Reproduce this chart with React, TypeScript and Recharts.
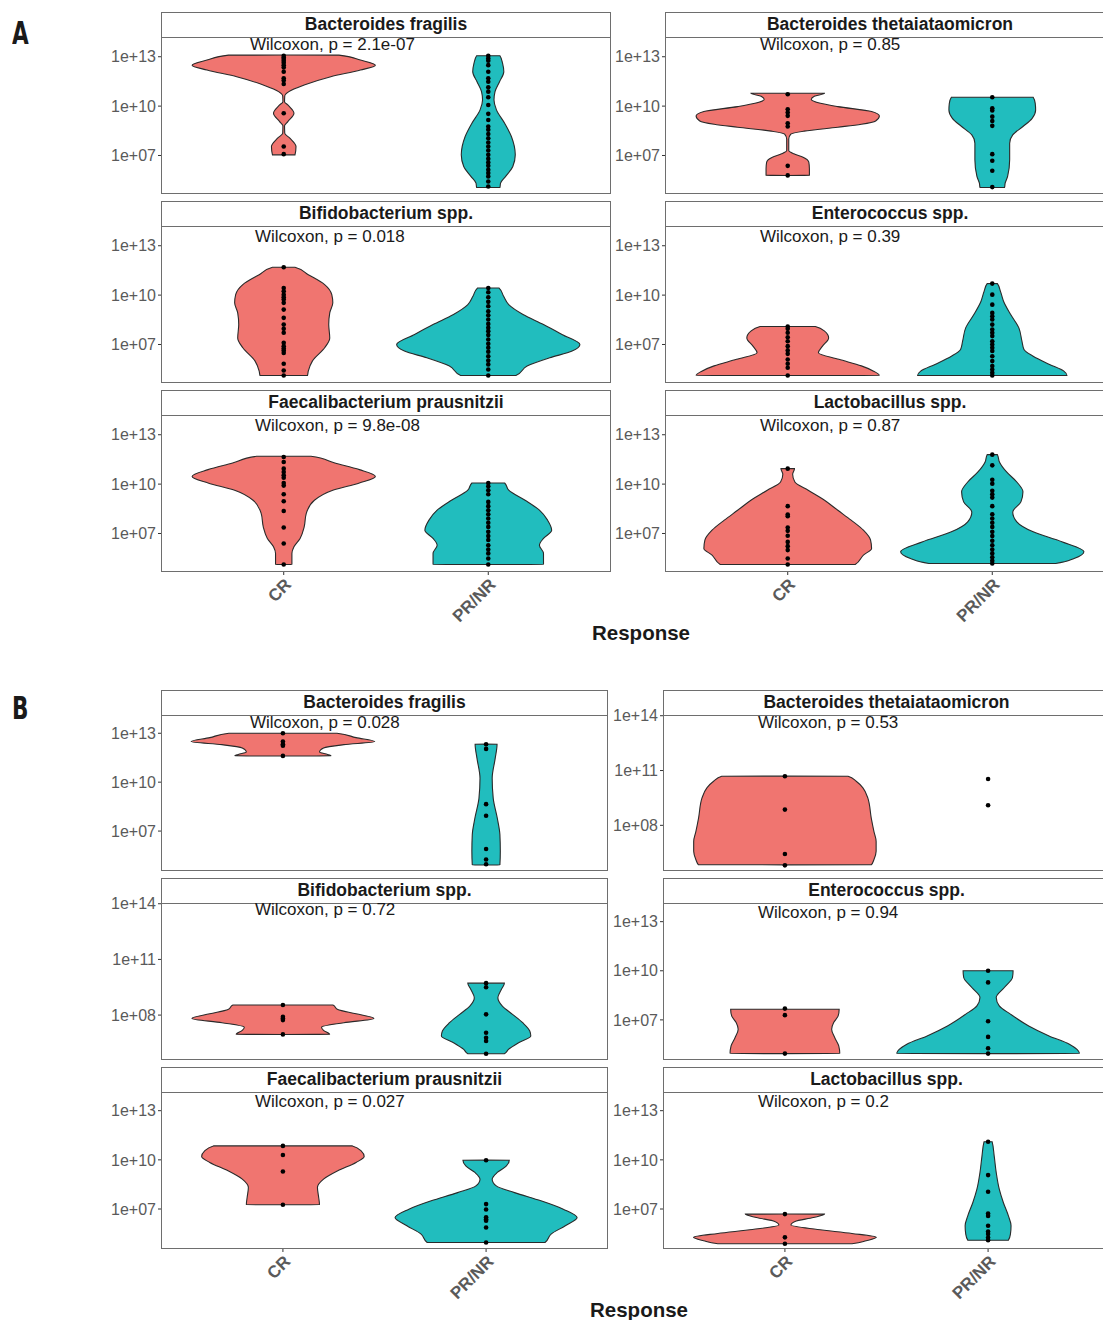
import React from "react";
import { ComposedChart, Area, Scatter, XAxis, YAxis } from "recharts";

// violin outlines: [log10 abundance, half width in x units]
type Knot = [number, number];

const groups = ["CR", "PR/NR"];
const CR_COLOR = "#F07570";
const PR_COLOR = "#21BDBE";

// ---------- A ----------
const aFragCr: Knot[] = [[13.1, 0.27], [12.8, 0.375], [12.49, 0.448], [12.19, 0.375], [11.79, 0.23], [11.28, 0.1], [10.88, 0.025], [10.62, 0.005], [10.27, 0.004], [10.07, 0.02], [9.57, 0.05], [9.06, 0.02], [8.8, 0.004], [8.35, 0.005], [8.05, 0.03], [7.55, 0.06], [7.04, 0.055]];
const aFragPr: Knot[] = [[13.06, 0.057], [12.6, 0.07], [12.09, 0.076], [11.48, 0.055], [10.88, 0.033], [10.37, 0.028], [9.77, 0.04], [8.96, 0.08], [8.15, 0.113], [7.04, 0.132], [6.33, 0.12], [5.73, 0.085], [5.32, 0.06], [5.06, 0.057]];
const aFragCrDots = [13.06, 12.95, 12.86, 12.76, 12.64, 12.49, 12.35, 12.09, 11.69, 11.55, 11.34, 9.57, 7.55, 7.08];
const aFragPrDots = [13.06, 12.9, 12.76, 12.49, 12.09, 11.69, 11.48, 11.14, 10.88, 10.54, 10.07, 9.53, 9.16, 8.76, 8.56, 8.31, 8.05, 7.79, 7.55, 7.3, 7.04, 6.8, 6.58, 6.37, 6.13, 5.93, 5.73, 5.42, 5.12];

const aThetaCr: Knot[] = [[10.78, 0.18], [10.6, 0.13], [10.4, 0.115], [10.17, 0.16], [9.97, 0.245], [9.67, 0.41], [9.4, 0.448], [9.1, 0.43], [8.9, 0.36], [8.72, 0.245], [8.48, 0.08], [8.3, 0.015], [8.0, 0.005], [7.3, 0.005], [7.1, 0.03], [6.9, 0.075], [6.6, 0.103], [6.2, 0.106], [5.79, 0.106]];
const aThetaPr: Knot[] = [[10.54, 0.2], [10.17, 0.21], [9.77, 0.212], [9.26, 0.195], [8.76, 0.15], [8.25, 0.1], [7.75, 0.085], [6.74, 0.085], [5.73, 0.075], [5.32, 0.063], [5.06, 0.06]];
const aThetaCrDots = [10.72, 9.81, 9.61, 9.41, 8.96, 8.76, 6.37, 5.79];
const aThetaPrDots = [10.54, 9.87, 9.73, 9.36, 9.1, 8.8, 7.08, 6.68, 6.07, 5.08];

const aBifCr: Knot[] = [[11.69, 0.055], [11.24, 0.12], [10.64, 0.2], [10.03, 0.235], [9.53, 0.24], [8.92, 0.225], [8.21, 0.22], [7.4, 0.225], [6.8, 0.2], [5.99, 0.14], [5.38, 0.12], [5.12, 0.116]];
const aBifPr: Knot[] = [[10.43, 0.053], [9.93, 0.075], [9.42, 0.1], [8.82, 0.17], [8.21, 0.27], [7.61, 0.36], [7.0, 0.448], [6.6, 0.41], [6.19, 0.3], [5.69, 0.19], [5.12, 0.135]];
const aBifCrDots = [11.69, 10.43, 10.23, 10.03, 9.87, 9.73, 9.53, 9.12, 8.62, 8.21, 7.95, 7.71, 7.1, 6.9, 6.76, 6.64, 6.49, 5.83, 5.42, 5.12];
const aBifPrDots = [10.43, 10.17, 9.87, 9.59, 9.32, 9.02, 8.78, 8.52, 8.25, 8.01, 7.81, 7.57, 7.3, 7.04, 6.8, 6.56, 6.29, 6.03, 5.79, 5.48, 5.12];

const aEntCr: Knot[] = [[8.09, 0.135], [7.81, 0.18], [7.4, 0.2], [6.9, 0.17], [6.5, 0.15], [6.1, 0.25], [5.7, 0.36], [5.38, 0.42], [5.12, 0.448]];
const aEntPr: Knot[] = [[10.7, 0.025], [10.23, 0.04], [9.63, 0.055], [8.82, 0.09], [8.01, 0.13], [7.2, 0.145], [6.7, 0.155], [6.29, 0.2], [5.79, 0.28], [5.38, 0.35], [5.12, 0.365]];
const aEntCrDots = [8.09, 7.95, 7.71, 7.44, 7.2, 6.9, 6.64, 6.43, 6.09, 5.83, 5.59, 5.12];
const aEntPrDots = [10.7, 10.03, 9.42, 8.92, 8.72, 8.52, 8.21, 7.91, 7.71, 7.51, 7.2, 7.0, 6.8, 6.6, 6.29, 5.99, 5.69, 5.48, 5.28, 5.12];

const aFaeCr: Knot[] = [[11.69, 0.133], [11.28, 0.25], [10.88, 0.37], [10.47, 0.448], [10.07, 0.37], [9.63, 0.24], [9.02, 0.15], [8.21, 0.11], [7.4, 0.1], [6.7, 0.08], [6.19, 0.05], [5.79, 0.04], [5.12, 0.04]];
const aFaePr: Knot[] = [[10.07, 0.08], [9.63, 0.1], [9.02, 0.18], [8.42, 0.25], [7.81, 0.29], [7.2, 0.31], [6.7, 0.27], [6.29, 0.25], [5.79, 0.27], [5.38, 0.27], [5.12, 0.27]];
const aFaeCrDots = [11.65, 11.34, 10.94, 10.74, 10.54, 10.39, 10.07, 9.91, 9.38, 8.96, 8.37, 7.36, 6.39, 5.12];
const aFaePrDots = [10.07, 9.87, 9.63, 9.38, 8.92, 8.66, 8.41, 8.17, 7.91, 7.65, 7.4, 7.1, 6.84, 6.6, 6.29, 6.03, 5.79, 5.48, 5.12];

const aLacCr: Knot[] = [[10.94, 0.033], [10.6, 0.024], [10.13, 0.035], [9.63, 0.1], [9.02, 0.18], [8.41, 0.245], [7.81, 0.31], [7.2, 0.37], [6.6, 0.405], [6.09, 0.41], [5.69, 0.37], [5.12, 0.33]];
const aLacPr: Knot[] = [[11.79, 0.025], [11.35, 0.035], [10.74, 0.07], [10.13, 0.12], [9.53, 0.15], [8.92, 0.14], [8.31, 0.1], [7.71, 0.12], [7.1, 0.2], [6.5, 0.34], [5.89, 0.448], [5.48, 0.4], [5.18, 0.31]];
const aLacCrDots = [10.94, 8.66, 8.15, 8.05, 7.36, 7.16, 6.86, 6.49, 6.23, 5.99, 5.48, 5.12];
const aLacPrDots = [11.79, 11.14, 10.27, 10.03, 9.59, 9.38, 9.18, 8.66, 8.17, 7.91, 7.65, 7.4, 7.1, 6.84, 6.56, 6.29, 6.03, 5.79, 5.55, 5.34, 5.18];

// ---------- B ----------
const bFragCr: Knot[] = [[13.0, 0.266], [12.73, 0.36], [12.49, 0.452], [12.3, 0.3], [12.1, 0.2], [11.85, 0.18], [11.7, 0.22], [11.61, 0.237]];
const bFragPr: Knot[] = [[12.33, 0.054], [11.47, 0.045], [10.24, 0.03], [9.02, 0.035], [7.8, 0.055], [6.78, 0.068], [5.76, 0.07], [4.92, 0.068]];
const bFragCrDots = [13.0, 12.49, 12.33, 12.24, 11.61];
const bFragPrDots = [12.33, 12.04, 8.65, 7.94, 5.9, 5.26, 4.96];

const bThetaCr: Knot[] = [[10.69, 0.311], [10.41, 0.351], [10.05, 0.384], [9.5, 0.408], [8.4, 0.425], [7.67, 0.438], [7.12, 0.449], [6.58, 0.449], [6.12, 0.438], [5.84, 0.425]];
const bThetaCrDots = [10.69, 8.86, 6.43, 5.81];
const bThetaPrDots = [10.54, 9.1];

const bBifCr: Knot[] = [[8.54, 0.246], [8.3, 0.27], [8.07, 0.36], [7.82, 0.448], [7.59, 0.3], [7.35, 0.19], [7.18, 0.2], [6.96, 0.23]];
const bBifPr: Knot[] = [[9.72, 0.09], [9.38, 0.075], [8.93, 0.058], [8.48, 0.08], [8.04, 0.13], [7.59, 0.18], [7.14, 0.215], [6.87, 0.22], [6.51, 0.16], [6.15, 0.11], [5.92, 0.09]];
const bBifCrDots = [8.54, 7.91, 7.82, 7.73, 6.96];
const bBifPrDots = [9.72, 9.5, 8.04, 7.05, 6.78, 6.6, 5.92];

const bEntCr: Knot[] = [[7.65, 0.267], [7.24, 0.262], [6.84, 0.24], [6.43, 0.23], [5.92, 0.245], [5.41, 0.265], [4.94, 0.27]];
const bEntPr: Knot[] = [[10.0, 0.123], [9.59, 0.12], [8.98, 0.08], [8.37, 0.04], [7.86, 0.055], [7.35, 0.11], [6.63, 0.2], [6.02, 0.3], [5.51, 0.4], [4.94, 0.45]];
const bEntCrDots = [7.69, 7.29, 4.94];
const bEntPrDots = [10.0, 9.29, 6.92, 5.96, 5.27, 4.94];

const bFaeCr: Knot[] = [[10.85, 0.342], [10.55, 0.385], [10.2, 0.4], [9.84, 0.36], [9.33, 0.27], [8.82, 0.2], [8.31, 0.17], [7.8, 0.175], [7.26, 0.18]];
const bFaePr: Knot[] = [[9.98, 0.114], [9.63, 0.1], [9.23, 0.055], [8.82, 0.03], [8.41, 0.05], [8.0, 0.14], [7.5, 0.27], [6.99, 0.38], [6.48, 0.448], [5.98, 0.39], [5.47, 0.32], [4.96, 0.29]];
const bFaeCrDots = [10.85, 10.3, 9.29, 7.26];
const bFaePrDots = [9.98, 7.3, 6.97, 6.5, 6.38, 6.28, 5.87, 4.96];

const bLacCr: Knot[] = [[6.69, 0.195], [6.48, 0.14], [6.24, 0.05], [6.02, 0.03], [5.75, 0.16], [5.51, 0.33], [5.27, 0.45], [5.06, 0.4], [4.88, 0.33]];
const bLacPr: Knot[] = [[11.1, 0.02], [10.24, 0.03], [9.23, 0.04], [8.21, 0.055], [7.4, 0.075], [6.58, 0.1], [5.98, 0.113], [5.47, 0.11], [5.1, 0.1]];
const bLacCrDots = [6.69, 5.27, 4.88];
const bLacPrDots = [11.1, 9.07, 8.05, 6.73, 6.58, 5.98, 5.63, 5.47, 5.26, 5.1];

const FONT = "'Liberation Sans', Arial, Helvetica, sans-serif";
const YW = 60;
const STRIP = 25;
const PAD = 12; // room above the plot for a tick label sitting on the top edge
const EPS = 0.002;

// add zero-width end points so the flat ends of a violin get an outline
function closeShape(k: Knot[]): Knot[] {
  const s = [...k].sort((a, b) => a[0] - b[0]);
  return [[s[0][0] - EPS, 0], ...s, [s[s.length - 1][0] + EPS, 0]];
}

function buildRows(cr?: Knot[], pr?: Knot[]) {
  const map = new Map<number, any>();
  const put = (k: Knot[] | undefined, key: string, pos: number) => {
    if (!k) return;
    closeShape(k).forEach(([y, w]) => {
      const row = map.get(y) ?? { y, cr: [null, null], pr: [null, null] };
      row[key] = [pos - w, pos + w];
      map.set(y, row);
    });
  };
  put(cr, "cr", 1);
  put(pr, "pr", 2);
  return [...map.values()].sort((a, b) => a.y - b.y);
}

const fmtTick = (v: number) => `1e+${v < 10 ? "0" + v : v}`;

interface PanelProps {
  left: number;
  top: number;
  width: number;
  plotH: number;
  title: string;
  pText: string;
  pX: number;
  pY: number;
  domain: [number, number];
  ticks: number[];
  cr?: Knot[];
  pr?: Knot[];
  crDots: number[];
  prDots: number[];
  bottom?: boolean;
}

const Panel: React.FC<PanelProps> = (p) => {
  const rows = buildRows(p.cr, p.pr);
  const dots = [...p.crDots.map((y) => ({ x: 1, y })), ...p.prDots.map((y) => ({ x: 2, y }))];
  const xh = p.bottom ? 62 : 0;
  return (
    <>
      <div
        style={{
          position: "absolute", left: p.left, top: p.top, width: p.width, height: STRIP + 1,
          boxSizing: "border-box", border: "1.5px solid #6e6e6e", textAlign: "center",
          fontWeight: 700, fontSize: 17.5, lineHeight: `${STRIP - 2}px`, color: "#1a1a1a",
        }}
      >
        {p.title}
      </div>
      <div style={{ position: "absolute", left: p.left - YW, top: p.top + STRIP - PAD }}>
        <ComposedChart
          layout="vertical"
          width={p.width + YW}
          height={p.plotH + xh + PAD * 2}
          data={rows}
          margin={{ top: PAD, right: 0, bottom: PAD, left: 0 }}
        >
          {p.bottom ? (
            <XAxis
              type="number"
              domain={[0.4, 2.6]}
              allowDataOverflow
              ticks={[1, 2]}
              interval={0}
              tickFormatter={(v: number) => groups[v - 1]}
              angle={-45}
              textAnchor="end"
              height={xh}
              axisLine={false}
              tickSize={3}
              tickLine={{ stroke: "#333" }}
              tick={{ fontSize: 17, fontWeight: 700, fill: "#5a5a5a", fontFamily: FONT }}
            />
          ) : (
            <XAxis type="number" domain={[0.4, 2.6]} allowDataOverflow hide />
          )}
          <YAxis
            type="number"
            dataKey="y"
            reversed
            domain={p.domain}
            allowDataOverflow
            ticks={p.ticks}
            interval={0}
            tickFormatter={fmtTick}
            width={YW}
            axisLine={false}
            tickSize={3}
            tickLine={{ stroke: "#333" }}
            tick={{ fontSize: 16, fill: "#5a5a5a", fontFamily: FONT }}
          />
          {p.cr && (
            <Area type="monotone" dataKey="cr" fill={CR_COLOR} fillOpacity={1} stroke="#2a2a2a" strokeWidth={1.1}
              connectNulls dot={false} activeDot={false} isAnimationActive={false} />
          )}
          {p.pr && (
            <Area type="monotone" dataKey="pr" fill={PR_COLOR} fillOpacity={1} stroke="#2a2a2a" strokeWidth={1.1}
              connectNulls dot={false} activeDot={false} isAnimationActive={false} />
          )}
          <Scatter
            data={dots}
            dataKey="x"
            isAnimationActive={false}
            shape={(s: any) => <circle cx={s.cx} cy={s.cy} r={2.3} fill="#000" />}
          />
        </ComposedChart>
      </div>
      <div
        style={{
          position: "absolute", left: p.left, top: p.top + STRIP, width: p.width, height: p.plotH,
          boxSizing: "border-box", border: "1.5px solid #6e6e6e", pointerEvents: "none",
        }}
      />
      <div
        style={{
          position: "absolute", left: p.pX, top: p.pY - 10, fontSize: 17, lineHeight: "20px",
          color: "#1a1a1a", whiteSpace: "nowrap",
        }}
      >
        {p.pText}
      </div>
    </>
  );
};

const A_DOMAIN: [number, number] = [4.66, 14.2];
const T7 = [7, 10, 13];
const T8 = [8, 11, 14];

const panelsA: PanelProps[] = [
  { left: 161, top: 12, width: 450, plotH: 157, title: "Bacteroides fragilis", pText: "Wilcoxon, p = 2.1e-07", pX: 250, pY: 45, domain: A_DOMAIN, ticks: T7, cr: aFragCr, pr: aFragPr, crDots: aFragCrDots, prDots: aFragPrDots },
  { left: 665, top: 12, width: 450, plotH: 157, title: "Bacteroides thetaiataomicron", pText: "Wilcoxon, p = 0.85", pX: 760, pY: 45, domain: A_DOMAIN, ticks: T7, cr: aThetaCr, pr: aThetaPr, crDots: aThetaCrDots, prDots: aThetaPrDots },
  { left: 161, top: 201, width: 450, plotH: 157, title: "Bifidobacterium spp.", pText: "Wilcoxon, p = 0.018", pX: 255, pY: 237, domain: A_DOMAIN, ticks: T7, cr: aBifCr, pr: aBifPr, crDots: aBifCrDots, prDots: aBifPrDots },
  { left: 665, top: 201, width: 450, plotH: 157, title: "Enterococcus spp.", pText: "Wilcoxon, p = 0.39", pX: 760, pY: 237, domain: A_DOMAIN, ticks: T7, cr: aEntCr, pr: aEntPr, crDots: aEntCrDots, prDots: aEntPrDots },
  { left: 161, top: 390, width: 450, plotH: 157, title: "Faecalibacterium prausnitzii", pText: "Wilcoxon, p = 9.8e-08", pX: 255, pY: 426, domain: A_DOMAIN, ticks: T7, cr: aFaeCr, pr: aFaePr, crDots: aFaeCrDots, prDots: aFaePrDots, bottom: true },
  { left: 665, top: 390, width: 450, plotH: 157, title: "Lactobacillus spp.", pText: "Wilcoxon, p = 0.87", pX: 760, pY: 426, domain: A_DOMAIN, ticks: T7, cr: aLacCr, pr: aLacPr, crDots: aLacCrDots, prDots: aLacPrDots, bottom: true },
];

const panelsB: PanelProps[] = [
  { left: 161, top: 690, width: 447, plotH: 156, title: "Bacteroides fragilis", pText: "Wilcoxon, p = 0.028", pX: 250, pY: 723, domain: [4.55, 14.12], ticks: T7, cr: bFragCr, pr: bFragPr, crDots: bFragCrDots, prDots: bFragPrDots },
  { left: 663, top: 690, width: 447, plotH: 156, title: "Bacteroides thetaiataomicron", pText: "Wilcoxon, p = 0.53", pX: 758, pY: 723, domain: [5.5, 14.04], ticks: T8, cr: bThetaCr, crDots: bThetaCrDots, prDots: bThetaPrDots },
  { left: 161, top: 878, width: 447, plotH: 157, title: "Bifidobacterium spp.", pText: "Wilcoxon, p = 0.72", pX: 255, pY: 910, domain: [5.58, 14.04], ticks: T8, cr: bBifCr, pr: bBifPr, crDots: bBifCrDots, prDots: bBifPrDots },
  { left: 663, top: 878, width: 447, plotH: 157, title: "Enterococcus spp.", pText: "Wilcoxon, p = 0.94", pX: 758, pY: 913, domain: [4.55, 14.14], ticks: T7, cr: bEntCr, pr: bEntPr, crDots: bEntCrDots, prDots: bEntPrDots },
  { left: 161, top: 1067, width: 447, plotH: 157, title: "Faecalibacterium prausnitzii", pText: "Wilcoxon, p = 0.027", pX: 255, pY: 1102, domain: [4.56, 14.14], ticks: T7, cr: bFaeCr, pr: bFaePr, crDots: bFaeCrDots, prDots: bFaePrDots, bottom: true },
  { left: 663, top: 1067, width: 447, plotH: 157, title: "Lactobacillus spp.", pText: "Wilcoxon, p = 0.2", pX: 758, pY: 1102, domain: [4.56, 14.14], ticks: T7, cr: bLacCr, pr: bLacPr, crDots: bLacCrDots, prDots: bLacPrDots, bottom: true },
];

const sectionLabel = (text: string, top: number) => (
  <div
    style={{
      position: "absolute", left: 12, top, fontSize: 32, fontWeight: 700, lineHeight: "32px",
      fontFamily: "'Liberation Sans Narrow', 'DejaVu Sans Condensed', sans-serif", color: "#1a1a1a",
      transform: "scaleX(0.75)", transformOrigin: "left top",
    }}
  >
    {text}
  </div>
);

const axisTitle = (cx: number, cy: number) => (
  <div
    style={{
      position: "absolute", left: cx - 100, top: cy - 12, width: 200, textAlign: "center",
      fontSize: 20.5, fontWeight: 700, lineHeight: "24px", color: "#1a1a1a",
    }}
  >
    Response
  </div>
);

export default function App() {
  return (
    <div
      style={{
        position: "absolute", left: 0, top: 0, width: 1103, height: 1320, overflow: "hidden",
        background: "#fff", fontFamily: FONT,
      }}
    >
      {sectionLabel("A", 17)}
      {sectionLabel("B", 692)}
      {[...panelsA, ...panelsB].map((p, i) => (
        <Panel key={i} {...p} />
      ))}
      {axisTitle(641, 633)}
      {axisTitle(639, 1310)}
    </div>
  );
}
